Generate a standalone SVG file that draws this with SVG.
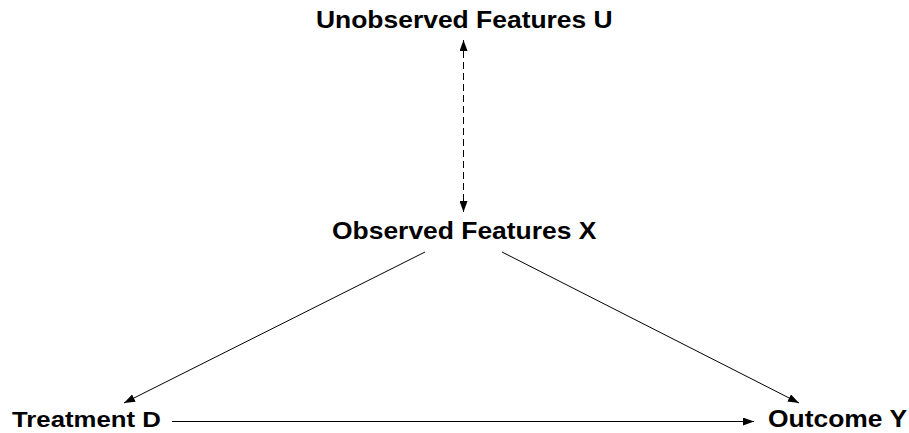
<svg xmlns="http://www.w3.org/2000/svg" width="909" height="433" viewBox="0 0 909 433">
  <defs>
    <style>
      .label { font-family: "Liberation Sans", Arial, Helvetica, sans-serif; font-weight: bold; font-size: 23px; fill: #000; }
      .edge { stroke: #000; stroke-width: 1; fill: none; }
      .dashed { stroke-dasharray: 7 4; }
    </style>
    <marker id="arrow" viewBox="0 0 11 8" refX="11" refY="4" markerWidth="11" markerHeight="8" markerUnits="userSpaceOnUse" orient="auto-start-reverse">
      <path d="M0,0 L11,4 L0,8 Z" fill="#000"/>
    </marker>
  </defs>

  <g id="connectors">
    <line class="edge dashed" x1="463.5" y1="40" x2="463.5" y2="212" marker-start="url(#arrow)" marker-end="url(#arrow)"/>
    <line class="edge" x1="425" y1="252" x2="124" y2="403" marker-end="url(#arrow)"/>
    <line class="edge" x1="502" y1="252" x2="799" y2="403" marker-end="url(#arrow)"/>
    <line class="edge" x1="172" y1="421.5" x2="754" y2="421.5" marker-end="url(#arrow)"/>
  </g>

  <!-- labels are drawn slightly wide -->
  <g id="node-u">
    <text class="label" transform="translate(316 28) scale(1.15 1)">Unobserved Features U</text>
  </g>
  <g id="node-x">
    <text class="label" transform="translate(332 239) scale(1.15 1)">Observed Features X</text>
  </g>
  <g id="node-d">
    <text class="label" transform="translate(12 427) scale(1.12 1)">Treatment D</text>
  </g>
  <g id="node-y">
    <text class="label" transform="translate(768 427) scale(1.15 1)">Outcome Y</text>
  </g>
</svg>
